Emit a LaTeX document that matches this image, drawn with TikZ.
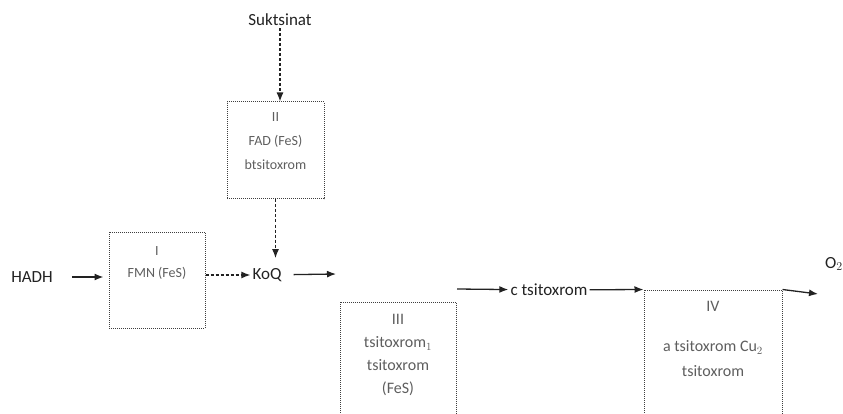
\documentclass[tikz,border=0pt]{standalone}
\usepackage{fontspec}
\setmainfont{Carlito}
\usetikzlibrary{arrows.meta,positioning}
\definecolor{ChainInk}{HTML}{222222}
\definecolor{ChainGray}{HTML}{5E5E5E}
\definecolor{ChainRule}{HTML}{3F3F3F}

\begin{document}
\begin{tikzpicture}[x=1pt,y=-1pt,
  lbl/.style={inner sep=2pt,text=ChainInk,font=\fontsize{17}{20}\selectfont},
  cplx/.style={draw=ChainRule,densely dotted,line width=1pt,inner sep=0pt},
  cplxtext/.style={align=center,inner sep=0pt,text=ChainGray,font=\fontsize{14}{24}\selectfont},
  edge/.style={-{Latex[length=9pt,width=7pt]},draw=ChainInk,line width=1.3pt},
  dedge/.style={edge,densely dashed}
]
\useasboundingbox (0,0) rectangle (843,414);
% complexes
\node[cplx,minimum width=96pt,minimum height=96pt] (c1) at (157,280) {};
\node[cplxtext,font=\fontsize{14}{22}\selectfont,below=15pt of c1.north] (c1t) {I\\FMN (FeS)};
\node[cplx,minimum width=97pt,minimum height=97pt] (c2) at (275.5,150.5) {};
\node[cplxtext,below=11pt of c2.north] (c2t) {II\\FAD (FeS)\\btsitoxrom};
\node[cplx,minimum width=116pt,minimum height=118pt] (c3) at (398,361) {};
\node[cplxtext,font=\fontsize{16}{23}\selectfont,below=13pt of c3.north] (c3t) {III\\tsitoxrom$_1$\\tsitoxrom\\(FeS)};
\node[cplx,minimum width=138pt,minimum height=130pt] (c4) at (713,355) {};
\node[cplxtext,font=\fontsize{16}{25}\selectfont,below=12pt of c4.north] (c4t) {IV\\[15pt]a tsitoxrom Cu$_2$\\tsitoxrom};
% substrates and carriers
\node[lbl] (succ) at (280,20) {Suktsinat};
\node[lbl] (hadh) at (32,277) {HADH};
\node[lbl] (koq) at (267,275) {KoQ};
\node[lbl] (ctsit) at (549,290) {c tsitoxrom};
\node[lbl,anchor=west] (o2) at (823,264) {O$_2$};
\coordinate (koqout) at (336,274);
\coordinate (ctin) at (457,289);
\coordinate (o2end) at (818,294);
% electron flow
\draw[dedge] (succ) -- (succ |- c2.north);
\draw[dedge,shorten >=8pt] (c2.south) -- (c2.south |- koq.north);
\draw[edge,shorten <=17pt,shorten >=5pt] (hadh) -- (hadh -| c1.west);
\draw[dedge] (c1.east |- koq) -- (koq);
\draw[edge,shorten <=10pt] (koq) -- (koqout);
\draw[edge] (ctin) -- (ctsit);
\draw[edge] (ctsit) -- (c4.north west);
\draw[edge] (c4.north east) -- (o2end);
\end{tikzpicture}
\end{document}
